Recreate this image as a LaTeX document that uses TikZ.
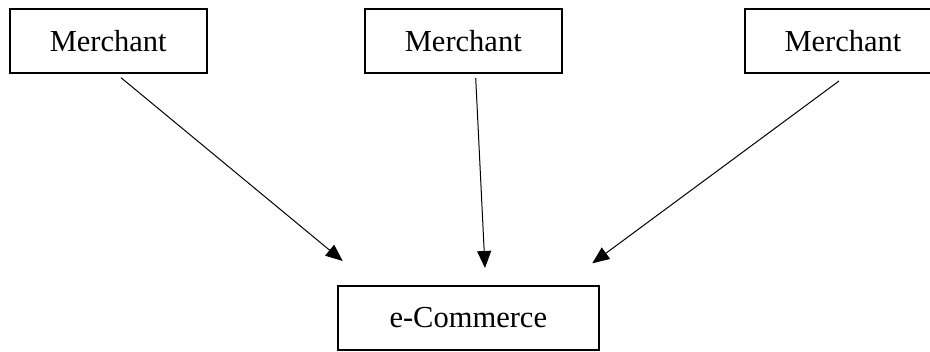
\documentclass[tikz,border=0pt]{standalone}
\usepackage{fontspec}
\setmainfont{Liberation Serif}
\usetikzlibrary{arrows.meta}
\begin{document}
\begin{tikzpicture}[x=1pt,y=-1pt,
  box/.style={draw,line width=1.8pt,inner sep=0pt,font=\fontsize{30.5}{36}\selectfont},
  conn/.style={line width=1pt,-{Triangle[length=17pt,width=14pt]}}]
\useasboundingbox (0,0) rectangle (930,352);
\clip (0,0) rectangle (930,352);
\node[box,minimum width=197pt,minimum height=64pt] (m1) at (108.2,41.3) {Merchant};
\node[box,minimum width=196.7pt,minimum height=64pt] (m2) at (463.3,41.3) {Merchant};
\node[box,minimum width=196pt,minimum height=64pt] (m3) at (843,41.3) {Merchant};
\node[box,minimum width=261.3pt,minimum height=64.3pt] (ec) at (468.3,317.8) {e-Commerce};
\coordinate (t1) at (342.7,261);
\coordinate (t2) at (485,268);
\coordinate (t3) at (592.3,263.3);
\coordinate (s1) at (121,77.7);
\coordinate (s2) at (475.7,78);
\coordinate (s3) at (839,81);
\draw[conn] (s1) -- (t1);
\draw[conn] (s2) -- (t2);
\draw[conn] (s3) -- (t3);
\end{tikzpicture}
\end{document}
